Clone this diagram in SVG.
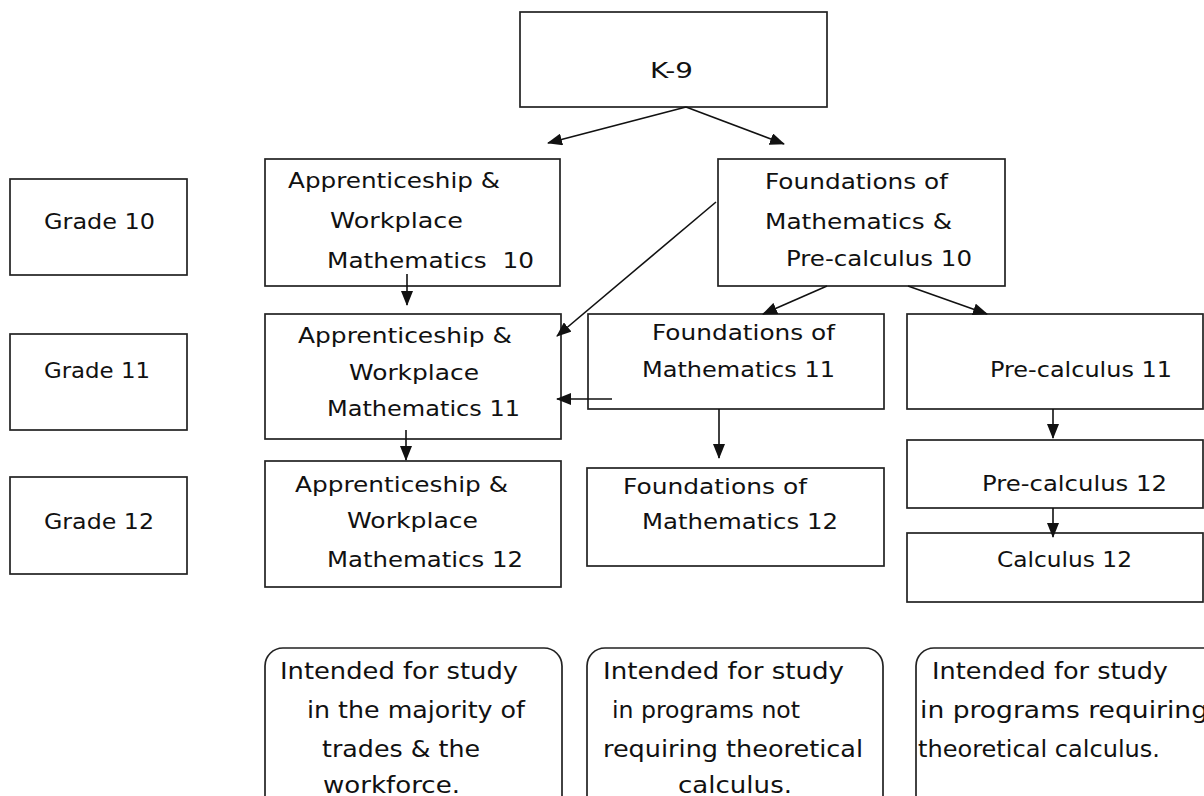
<svg xmlns="http://www.w3.org/2000/svg" width="1204" height="796" viewBox="0 0 1204 796">
<style>
  .box { fill: #fff; stroke: #222; stroke-width: 1.7; }
  .t { font-family: "DejaVu Sans", "Liberation Sans", sans-serif; font-size: 22px; fill: #111; }
  .n { font-size: 23px; }
  .c { fill: none; stroke: #111; stroke-width: 1.6; }
</style>
<defs>
  <marker id="ah" markerUnits="userSpaceOnUse" markerWidth="15" markerHeight="12" refX="14" refY="6" orient="auto">
    <path d="M0,0 L15,6 L0,12 z" fill="#111"/>
  </marker>
</defs>
<rect width="1204" height="796" fill="#fff"/>

<g id="k9">
  <rect class="box" x="520" y="12" width="307" height="95"/>
  <text class="t" x="650" y="78" textLength="43" lengthAdjust="spacingAndGlyphs">K-9</text>
</g>

<g id="grade10">
  <rect class="box" x="10" y="179" width="177" height="96"/>
  <text class="t" x="44" y="229" textLength="111" lengthAdjust="spacingAndGlyphs">Grade 10</text>
</g>
<g id="grade11">
  <rect class="box" x="10" y="334" width="177" height="96"/>
  <text class="t" x="44" y="378" textLength="106" lengthAdjust="spacingAndGlyphs">Grade 11</text>
</g>
<g id="grade12">
  <rect class="box" x="10" y="477" width="177" height="97"/>
  <text class="t" x="44" y="529" textLength="110" lengthAdjust="spacingAndGlyphs">Grade 12</text>
</g>

<g id="aw10">
  <rect class="box" x="265" y="159" width="295" height="127"/>
  <text class="t" x="288" y="188" textLength="212" lengthAdjust="spacingAndGlyphs">Apprenticeship &amp;</text>
  <text class="t" x="330" y="228" textLength="133" lengthAdjust="spacingAndGlyphs">Workplace</text>
  <text class="t" x="327" y="268" textLength="207" lengthAdjust="spacingAndGlyphs" xml:space="preserve">Mathematics  10</text>
</g>

<g id="fpc10">
  <rect class="box" x="718" y="159" width="287" height="127"/>
  <text class="t" x="765" y="189" textLength="183" lengthAdjust="spacingAndGlyphs">Foundations of</text>
  <text class="t" x="765" y="229" textLength="187" lengthAdjust="spacingAndGlyphs">Mathematics &amp;</text>
  <text class="t" x="786" y="266" textLength="186" lengthAdjust="spacingAndGlyphs">Pre-calculus 10</text>
</g>

<g id="aw11">
  <rect class="box" x="265" y="314" width="296" height="125"/>
  <text class="t" x="298" y="343" textLength="214" lengthAdjust="spacingAndGlyphs">Apprenticeship &amp;</text>
  <text class="t" x="349" y="380" textLength="130" lengthAdjust="spacingAndGlyphs">Workplace</text>
  <text class="t" x="327" y="416" textLength="193" lengthAdjust="spacingAndGlyphs">Mathematics 11</text>
</g>

<g id="fm11">
  <rect class="box" x="588" y="314" width="296" height="95"/>
  <text class="t" x="652" y="340" textLength="183" lengthAdjust="spacingAndGlyphs">Foundations of</text>
  <text class="t" x="642" y="377" textLength="193" lengthAdjust="spacingAndGlyphs">Mathematics 11</text>
</g>

<g id="pc11">
  <rect class="box" x="907" y="314" width="296" height="95"/>
  <text class="t" x="990" y="377" textLength="182" lengthAdjust="spacingAndGlyphs">Pre-calculus 11</text>
</g>

<g id="aw12">
  <rect class="box" x="265" y="461" width="296" height="126"/>
  <text class="t" x="295" y="492" textLength="213" lengthAdjust="spacingAndGlyphs">Apprenticeship &amp;</text>
  <text class="t" x="347" y="528" textLength="131" lengthAdjust="spacingAndGlyphs">Workplace</text>
  <text class="t" x="327" y="567" textLength="196" lengthAdjust="spacingAndGlyphs">Mathematics 12</text>
</g>

<g id="fm12">
  <rect class="box" x="587" y="468" width="297" height="98"/>
  <text class="t" x="623" y="494" textLength="184" lengthAdjust="spacingAndGlyphs">Foundations of</text>
  <text class="t" x="642" y="529" textLength="196" lengthAdjust="spacingAndGlyphs">Mathematics 12</text>
</g>

<g id="pc12">
  <rect class="box" x="907" y="440" width="296" height="68"/>
  <text class="t" x="982" y="491" textLength="185" lengthAdjust="spacingAndGlyphs">Pre-calculus 12</text>
</g>

<g id="calc12">
  <rect class="box" x="907" y="533" width="296" height="69"/>
  <text class="t" x="997" y="567" textLength="135" lengthAdjust="spacingAndGlyphs">Calculus 12</text>
</g>

<g id="note1">
  <rect class="box" x="265" y="648" width="297" height="190" rx="18" ry="18"/>
  <text class="t n" x="280" y="679" textLength="238" lengthAdjust="spacingAndGlyphs">Intended for study</text>
  <text class="t n" x="307" y="718" textLength="218" lengthAdjust="spacingAndGlyphs">in the majority of</text>
  <text class="t n" x="322" y="757" textLength="158" lengthAdjust="spacingAndGlyphs">trades &amp; the</text>
  <text class="t n" x="323" y="793" textLength="137" lengthAdjust="spacingAndGlyphs">workforce.</text>
</g>

<g id="note2">
  <rect class="box" x="587" y="648" width="296" height="190" rx="18" ry="18"/>
  <text class="t n" x="603" y="679" textLength="241" lengthAdjust="spacingAndGlyphs">Intended for study</text>
  <text class="t n" x="612" y="718" textLength="188" lengthAdjust="spacingAndGlyphs">in programs not</text>
  <text class="t n" x="603" y="757" textLength="260" lengthAdjust="spacingAndGlyphs">requiring theoretical</text>
  <text class="t n" x="678" y="793" textLength="114" lengthAdjust="spacingAndGlyphs">calculus.</text>
</g>

<g id="note3">
  <rect class="box" x="916" y="648" width="320" height="190" rx="18" ry="18"/>
  <text class="t n" x="932" y="679" textLength="236" lengthAdjust="spacingAndGlyphs">Intended for study</text>
  <text class="t n" x="920" y="718" textLength="288" lengthAdjust="spacingAndGlyphs">in programs requiring</text>
  <text class="t n" x="918" y="757" textLength="242" lengthAdjust="spacingAndGlyphs">theoretical calculus.</text>
</g>

<g id="connectors">
  <line class="c" x1="686" y1="107" x2="548" y2="143" marker-end="url(#ah)"/>
  <line class="c" x1="686" y1="107" x2="784" y2="144" marker-end="url(#ah)"/>
  <line class="c" x1="407" y1="274" x2="407" y2="305" marker-end="url(#ah)"/>
  <line class="c" x1="716" y1="202" x2="557" y2="336" marker-end="url(#ah)"/>
  <line class="c" x1="827" y1="286" x2="763" y2="314" marker-end="url(#ah)"/>
  <line class="c" x1="908" y1="286" x2="987" y2="314" marker-end="url(#ah)"/>
  <line class="c" x1="612" y1="399" x2="557" y2="399" marker-end="url(#ah)"/>
  <line class="c" x1="406" y1="430" x2="406" y2="460" marker-end="url(#ah)"/>
  <line class="c" x1="719" y1="409" x2="719" y2="458" marker-end="url(#ah)"/>
  <line class="c" x1="1053" y1="409" x2="1053" y2="438" marker-end="url(#ah)"/>
  <line class="c" x1="1053" y1="508" x2="1053" y2="537" marker-end="url(#ah)"/>
</g>
</svg>
